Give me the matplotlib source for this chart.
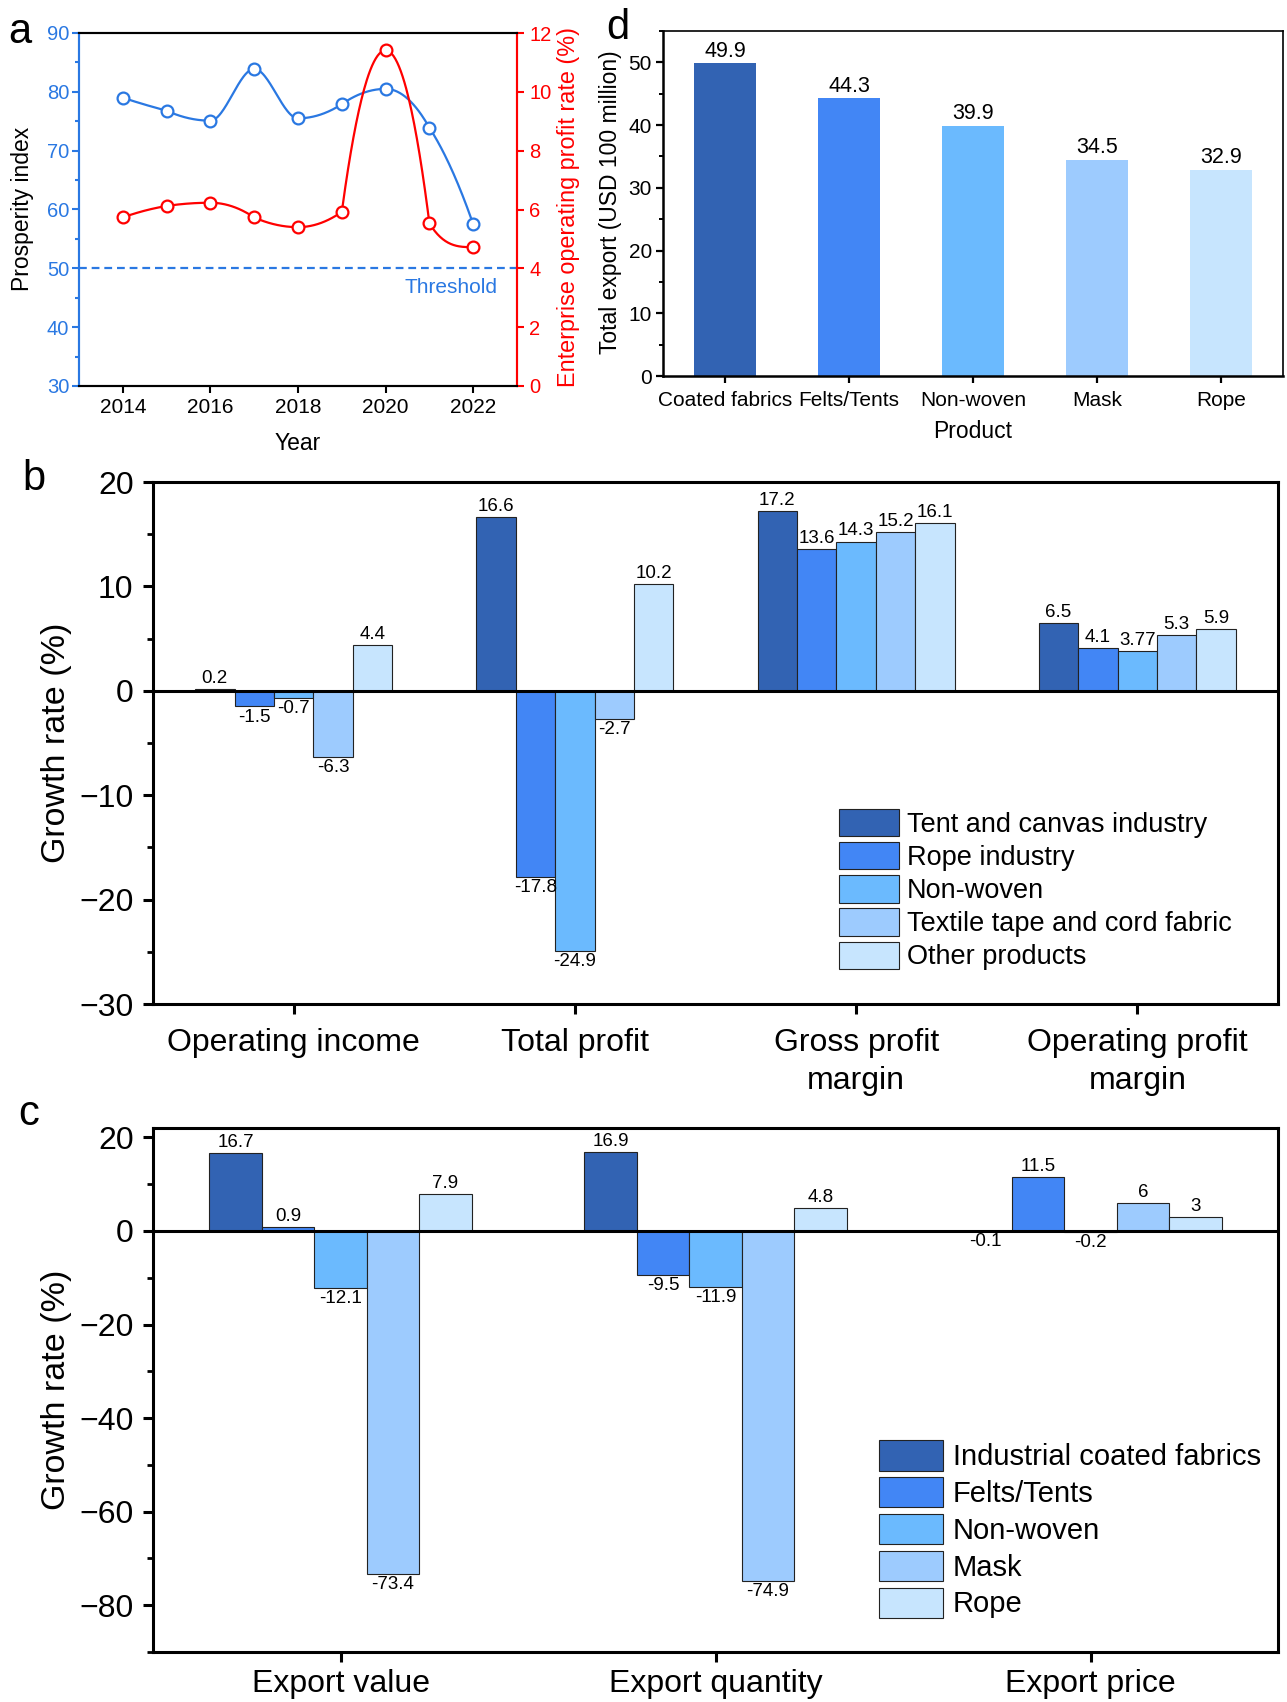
import numpy as np
import matplotlib
matplotlib.use('Agg')
import matplotlib.pyplot as plt
from matplotlib.ticker import MultipleLocator

plt.rcParams['font.family'] = ['Liberation Sans', 'DejaVu Sans']
plt.rcParams['axes.unicode_minus'] = True

# ---- data ----
years = [2014, 2015, 2016, 2017, 2018, 2019, 2020, 2021, 2022]
prosperity = [79.0, 76.8, 75.1, 83.9, 75.5, 77.9, 80.5, 73.9, 57.5]
profit_rate = [5.73, 6.12, 6.23, 5.73, 5.40, 5.92, 11.41, 5.53, 4.72]
threshold = 50

d_products = ['Coated fabrics', 'Felts/Tents', 'Non-woven', 'Mask', 'Rope']
d_export = [49.9, 44.3, 39.9, 34.5, 32.9]

b_categories = ['Operating income', 'Total profit', 'Gross profit\nmargin', 'Operating profit\nmargin']
b_names = ['Tent and canvas industry', 'Rope industry', 'Non-woven',
           'Textile tape and cord fabric', 'Other products']
b_tent = [0.2, 16.6, 17.2, 6.5]
b_rope = [-1.5, -17.8, 13.6, 4.1]
b_nonwoven = [-0.7, -24.9, 14.3, 3.77]
b_textile = [-6.3, -2.7, 15.2, 5.3]
b_other = [4.4, 10.2, 16.1, 5.9]

c_categories = ['Export value', 'Export quantity', 'Export price']
c_names = ['Industrial coated fabrics', 'Felts/Tents', 'Non-woven', 'Mask', 'Rope']
c_coated = [16.7, 16.9, -0.1]
c_felts = [0.9, -9.5, 11.5]
c_nonwoven = [-12.1, -11.9, -0.2]
c_mask = [-73.4, -74.9, 6]
c_rope = [7.9, 4.8, 3]

colors = ['#3263B3', '#4286F5', '#6BBAFE', '#9DCBFE', '#C7E5FE']
blue = '#2A78E2'
red = '#FF0000'

W, H = 1287, 1702
fig = plt.figure(figsize=(W / 100, H / 100), dpi=100)


def box(l, t, r, b):
    return [l / W, 1 - b / H, (r - l) / W, (b - t) / H]


def smooth_line(xs, ys, n=50):
    # smooth connecting line through the points (cubic Hermite pieces,
    # flat at local peaks/valleys, like the "spline" connect in Origin)
    x = np.asarray(xs, float)
    y = np.asarray(ys, float)
    k = len(y)
    d = np.diff(y) / np.diff(x)
    ext = np.zeros(k, bool)
    ext[1:-1] = d[:-1] * d[1:] <= 0
    cr = np.zeros(k)
    cr[1:-1] = (y[2:] - y[:-2]) / (x[2:] - x[:-2])
    outx, outy = [], []
    for i in range(k - 1):
        a, b, di = i, i + 1, d[i]
        if ext[a]:
            m0 = 0.0
        elif ext[b]:
            m0 = 2 * di
        elif a == 0:
            m0 = None
        else:
            m0 = cr[a]
        if ext[b]:
            m1 = 0.0
        elif ext[a]:
            m1 = 2 * di
        elif b == k - 1:
            m1 = None
        else:
            m1 = cr[b]
        if m0 is None:
            m0 = 2 * di - m1
            if m0 * di < 0:
                m0 = 0.0
        if m1 is None:
            m1 = 2 * di - m0
            if m1 * di < 0:
                m1 = 0.0
        lim = 3 * abs(di)
        m0 = np.clip(m0, -lim, lim)
        m1 = np.clip(m1, -lim, lim)
        hx = x[b] - x[a]
        s = np.linspace(0, 1, n)
        h00 = 2 * s ** 3 - 3 * s ** 2 + 1
        h10 = s ** 3 - 2 * s ** 2 + s
        h01 = -2 * s ** 3 + 3 * s ** 2
        h11 = s ** 3 - s ** 2
        outx.append(x[a] + s * hx)
        outy.append(h00 * y[a] + h10 * hx * m0 + h01 * y[b] + h11 * hx * m1)
    return np.concatenate(outx), np.concatenate(outy)


# ---- panel a ----
ax_a = fig.add_axes(box(79, 33, 517, 386))
ax_r = ax_a.twinx()
ax_a.set_xlim(2013, 2023)
ax_a.set_ylim(30, 90)
ax_r.set_ylim(0, 12)

sx, sy = smooth_line(years, prosperity)
ax_a.plot(sx, sy, color=blue, lw=1.6, zorder=3)
ax_a.plot(years, prosperity, 'o', ms=8.5, mfc='white', mec=blue, mew=1.6, zorder=4)
ax_a.axhline(threshold, color=blue, ls=(0, (3.5, 2.2)), lw=1.6)
ax_a.text(2022.55, 46.7, 'Threshold', color=blue, ha='right', va='center', fontsize=15)

sx, sy = smooth_line(years, profit_rate)
ax_r.plot(sx, sy, color=red, lw=1.6, zorder=3)
ax_r.plot(years, profit_rate, 'o', ms=8.5, mfc='white', mec=red, mew=1.6, zorder=4)

ax_a.set_xticks([2014, 2016, 2018, 2020, 2022])
ax_a.yaxis.set_major_locator(MultipleLocator(10))
ax_a.yaxis.set_minor_locator(MultipleLocator(5))
ax_r.yaxis.set_major_locator(MultipleLocator(2))
for sp in list(ax_a.spines.values()) + list(ax_r.spines.values()):
    sp.set_linewidth(1.5)
ax_a.spines['left'].set_color(blue)
ax_r.spines['left'].set_color(blue)
ax_r.spines['right'].set_color(red)
ax_a.spines['right'].set_color(red)
ax_a.tick_params(axis='x', direction='out', length=5, width=1.5, labelsize=15, pad=4)
ax_a.tick_params(axis='y', which='both', colors=blue, direction='out', width=1.5, labelsize=14.5, pad=2)
ax_a.tick_params(axis='y', which='major', length=5)
ax_a.tick_params(axis='y', which='minor', length=3)
ax_r.tick_params(axis='y', colors=red, direction='out', length=5, width=1.5, labelsize=14.5, pad=4)

fig.text(22 / W, 1 - 209 / H, 'Prosperity index', rotation=90, ha='center', va='center', fontsize=16.5)
fig.text(568 / W, 1 - 207 / H, 'Enterprise operating profit rate (%)', rotation=90,
         ha='center', va='center', fontsize=16.8, color=red)
fig.text(298 / W, 1 - 443 / H, 'Year', ha='center', va='center', fontsize=16.5)

# ---- panel d ----
ax_d = fig.add_axes(box(663, 31, 1283, 376))
xd = np.arange(len(d_products))
ax_d.bar(xd, d_export, width=0.5, color=colors, edgecolor='none')
for xi, v in zip(xd, d_export):
    ax_d.annotate(f'{v:g}', (xi, v), xytext=(0, 1), textcoords='offset points',
                  ha='center', va='bottom', fontsize=15.5)
ax_d.set_xlim(-0.5, 4.5)
ax_d.set_ylim(0, 55)
ax_d.set_xticks(xd)
ax_d.set_xticklabels(d_products)
ax_d.yaxis.set_major_locator(MultipleLocator(10))
ax_d.yaxis.set_minor_locator(MultipleLocator(5))
ax_d.tick_params(axis='both', which='major', direction='out', length=5, width=1.6, labelsize=15, pad=3)
ax_d.tick_params(axis='x', pad=6)
ax_d.tick_params(axis='y', which='minor', direction='out', length=3, width=1.4)
for s in ('left', 'bottom'):
    ax_d.spines[s].set_linewidth(1.8)
for s in ('top', 'right'):
    ax_d.spines[s].set_linewidth(1.2)
fig.text(611 / W, 1 - 202 / H, 'Total export (USD 100 million)', rotation=90,
         ha='center', va='center', fontsize=16.5)
fig.text(973 / W, 1 - 432 / H, 'Product', ha='center', va='center', fontsize=16.5)


# ---- panels b and c ----
def grouped(ax, cats, series, names, width, legend_kw):
    x = np.arange(len(cats))
    for i, (vals, name) in enumerate(zip(series, names)):
        pos = x + (i - 2) * width
        ax.bar(pos, vals, width, color=colors[i], edgecolor='#222222', lw=0.8, label=name, zorder=2)
        for p, v in zip(pos, vals):
            ax.annotate(f'{v:g}', (p, v), xytext=(0, 1.5 if v >= 0 else -1.5),
                        textcoords='offset points', ha='center',
                        va='bottom' if v >= 0 else 'top', fontsize=13.5, zorder=5)
    ax.axhline(0, color='black', lw=2.2, zorder=3)
    ax.set_xlim(-0.5, len(cats) - 0.5)
    ax.set_xticks(x)
    ax.set_xticklabels(cats, linespacing=1.38)
    for sp in ax.spines.values():
        sp.set_linewidth(2.2)
    ax.legend(loc='upper left', frameon=False, borderpad=0, borderaxespad=0, **legend_kw)


ax_b = fig.add_axes(box(153, 482, 1278, 1004))
grouped(ax_b, b_categories, [b_tent, b_rope, b_nonwoven, b_textile, b_other], b_names, 0.14,
        dict(bbox_to_anchor=(0.610, 0.374), fontsize=19.5, handlelength=2.2, handleheight=1.18,
             labelspacing=0.16, handletextpad=0.3))
ax_b.set_ylim(-30, 20)
ax_b.yaxis.set_major_locator(MultipleLocator(10))
ax_b.yaxis.set_minor_locator(MultipleLocator(5))
ax_b.tick_params(axis='both', which='major', direction='out', length=7, width=2.2, labelsize=23)
ax_b.tick_params(axis='x', pad=10)
ax_b.tick_params(axis='y', pad=7)
ax_b.tick_params(axis='y', which='minor', direction='out', length=4, width=2)
fig.text(56 / W, 1 - 743 / H, 'Growth rate (%)', rotation=90, ha='center', va='center', fontsize=24.5)

ax_c = fig.add_axes(box(153, 1128, 1278, 1652))
grouped(ax_c, c_categories, [c_coated, c_felts, c_nonwoven, c_mask, c_rope], c_names, 0.14,
        dict(bbox_to_anchor=(0.645, 0.404), fontsize=21, handlelength=2.2, handleheight=1.22,
             labelspacing=0.2, handletextpad=0.35))
ax_c.set_ylim(-90, 22)
ax_c.set_yticks([-80, -60, -40, -20, 0, 20])
ax_c.yaxis.set_minor_locator(MultipleLocator(10))
ax_c.tick_params(axis='both', which='major', direction='out', length=7, width=2.2, labelsize=23)
ax_c.tick_params(axis='x', pad=5)
ax_c.tick_params(axis='y', pad=7)
ax_c.tick_params(axis='y', which='minor', direction='out', length=4, width=2)
fig.text(56 / W, 1 - 1390 / H, 'Growth rate (%)', rotation=90, ha='center', va='center', fontsize=24.5)

# panel letters
for letter, x0, y0 in (('a', 20, 43), ('d', 618, 39), ('b', 34, 490), ('c', 29, 1125)):
    fig.text(x0 / W, 1 - y0 / H, letter, ha='center', va='baseline', fontsize=30)

fig.savefig('out.png', dpi=100)
